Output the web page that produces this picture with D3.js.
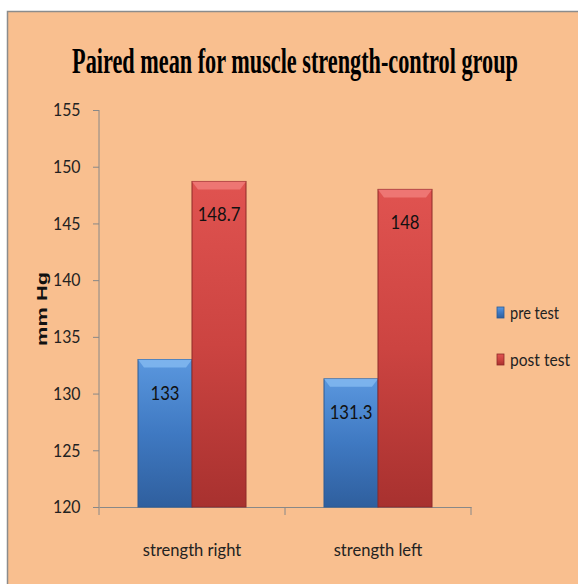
<!DOCTYPE html>
<html>
<head>
<meta charset="utf-8">
<script src="https://cdn.jsdelivr.net/npm/d3@7"></script>
<style>
  body { margin: 0; background: #fff; }
  svg { display: block; }
</style>
</head>
<body>
<script>
const categories = ['strength right', 'strength left'];
const seriesNames = ['pre test', 'post test'];
const preTest = [133, 131.3];
const postTest = [148.7, 148];
const yTicks = [120, 125, 130, 135, 140, 145, 150, 155];

const w = 578;
const h = 584;

const svg = d3.select('body')
	.append('svg')
	.attr('width', w)
	.attr('height', h);

const defs = svg.append('defs');
const grads = [
	{ id: 'gBlue', c: ['#5a97de', '#3f79c2', '#2f5f9e'] },
	{ id: 'gRed', c: ['#e05350', '#cc4441', '#a8312f'] }
];
grads.forEach(g => {
	const lg = defs.append('linearGradient').attr('id', g.id)
		.attr('x1', 0).attr('y1', 0).attr('x2', 0).attr('y2', 1);
	lg.append('stop').attr('offset', '0%').attr('stop-color', g.c[0]);
	lg.append('stop').attr('offset', '50%').attr('stop-color', g.c[1]);
	lg.append('stop').attr('offset', '100%').attr('stop-color', g.c[2]);
});
const colors = ['url(#gBlue)', 'url(#gRed)'];
const edge = ['#2c5a94', '#8e2a28'];
const bevel = ['#80b6ee', '#ef7a77'];

// panel
svg.append('rect')
	.attr('x', 7.5).attr('y', 11.5)
	.attr('width', w).attr('height', h)
	.attr('fill', '#f9bf8f')
	.attr('stroke', '#8c8c8c')
	.attr('stroke-width', 1.5);

// title, squeezed to the condensed width of the original
const title = svg.append('text')
	.attr('x', 0).attr('y', 0)
	.attr('text-anchor', 'middle')
	.attr('font-family', 'Liberation Serif, serif')
	.attr('font-weight', 'bold')
	.attr('font-size', 35)
	.text('Paired mean for muscle strength-control group');
const tLen = title.node().getComputedTextLength();
title.attr('transform', `translate(295,73) scale(${446 / tLen},1)`);

const x0 = d3.scaleBand().domain(categories).range([99, 471]);
const x1 = d3.scaleBand().domain(seriesNames).range([0, 108]);
const y = d3.scaleLinear().domain([120, 155]).range([507, 110]);

// y axis
const yAxis = svg.append('g')
	.attr('transform', 'translate(99,0)')
	.call(d3.axisLeft(y).tickValues(yTicks).tickSize(6).tickPadding(9));
yAxis.select('.domain').attr('stroke', '#888').attr('d', 'M0,110V515');
yAxis.selectAll('.tick line').attr('stroke', '#888');
yAxis.selectAll('.tick text')
	.attr('font-family', 'Lato, sans-serif')
	.attr('font-size', 18)
	.attr('fill', '#222')
	.attr('transform', 'scale(0.88,1)')
	.attr('dx', -6);

// x axis
const xAxis = svg.append('g')
	.attr('transform', 'translate(0,507)')
	.call(d3.axisBottom(x0).tickSize(0).tickPadding(36));
xAxis.select('.domain').attr('stroke', '#888');
xAxis.selectAll('.tick text')
	.attr('font-family', 'Lato, sans-serif')
	.attr('font-size', 18)
	.attr('fill', '#222')
	.attr('transform', 'scale(0.92,1)');
xAxis.selectAll('.sep')
	.data(categories)
	.enter().append('line')
	.attr('x1', d => x0(d) + x0.bandwidth())
	.attr('x2', d => x0(d) + x0.bandwidth())
	.attr('y1', 0).attr('y2', 8)
	.attr('stroke', '#888');

// bars
const rows = categories.map((c, i) => ({ cat: c, vals: [preTest[i], postTest[i]] }));
const groups = svg.selectAll('.grp')
	.data(rows)
	.enter().append('g')
	.attr('transform', d => `translate(${x0(d.cat) + (x0.bandwidth() - 108) / 2},0)`);

const bars = groups.selectAll('.bar')
	.data(d => d.vals.map((v, j) => ({ v, j, s: seriesNames[j] })))
	.enter().append('g');

bars.append('rect')
	.attr('x', d => x1(d.s))
	.attr('y', d => y(d.v))
	.attr('width', x1.bandwidth())
	.attr('height', d => y(120) - y(d.v))
	.attr('fill', d => colors[d.j])
	.attr('stroke', d => edge[d.j])
	.attr('stroke-width', 1);

bars.append('path')
	.attr('d', d => {
		const l = x1(d.s), r = l + x1.bandwidth(), t = y(d.v);
		return `M${l},${t}L${r},${t}L${r - 6},${t + 8}L${l + 6},${t + 8}Z`;
	})
	.attr('fill', d => bevel[d.j])
	.attr('opacity', 0.9);

bars.append('text')
	.attr('transform', d => `translate(${x1(d.s) + x1.bandwidth() / 2},${y(d.v) + 40}) scale(0.88,1)`)
	.attr('text-anchor', 'middle')
	.attr('font-family', 'Lato, sans-serif')
	.attr('font-size', 19)
	.attr('fill', '#111')
	.text(d => d.v);

// y label
svg.append('text')
	.attr('transform', 'translate(47,309) rotate(-90)')
	.attr('text-anchor', 'middle')
	.attr('font-family', 'Liberation Sans, Arial, sans-serif')
	.attr('font-weight', 'bold')
	.attr('font-size', 15)
	.attr('textLength', 74)
	.attr('lengthAdjust', 'spacingAndGlyphs')
	.attr('fill', '#111')
	.text('mm Hg');

// legend
const legend = svg.selectAll('.leg')
	.data(seriesNames)
	.enter().append('g')
	.attr('transform', (d, i) => `translate(497,${307 + i * 47})`);
legend.append('rect')
	.attr('width', 7).attr('height', 11)
	.attr('fill', (d, i) => colors[i])
	.attr('stroke', (d, i) => edge[i])
	.attr('stroke-width', 0.8);
legend.append('text')
	.attr('x', 13).attr('y', 12)
	.attr('font-family', 'Lato, sans-serif')
	.attr('font-size', 18)
	.attr('fill', '#222')
	.attr('textLength', d => d === 'pre test' ? 49 : 60)
	.attr('lengthAdjust', 'spacingAndGlyphs')
	.text(d => d);
</script>
</body>
</html>
